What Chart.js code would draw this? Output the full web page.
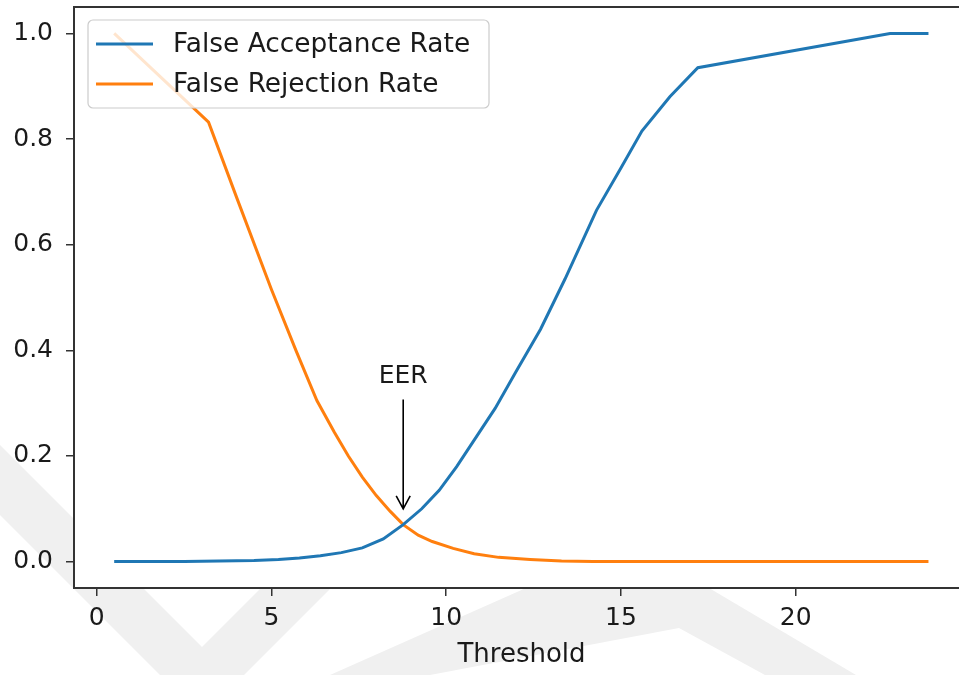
<!DOCTYPE html>
<html lang="en">
<head>
<meta charset="UTF-8">
<title>FAR / FRR</title>
<script src="https://cdn.jsdelivr.net/npm/chart.js"></script>
<style>
    html, body { margin: 0; padding: 0; background: #fff; overflow: hidden; }
    #wrap { width: 959px; height: 675px; overflow: hidden; }
    canvas { display: block; }
</style>
</head>
<body>
<div id="wrap"><canvas id="myChart" width="990" height="675"></canvas></div>
<script>
    // FAR curve (threshold, rate)
    const farX = [0.5, 1.5, 2.5, 3.5, 4.5, 5.2, 5.8, 6.4, 7.0, 7.6, 8.2, 8.77, 9.3, 9.8, 10.3, 10.8, 11.4, 12.0, 12.7, 13.4, 14.3, 15.0, 15.6, 16.4, 17.2, 22.7, 23.8];
    const farY = [0, 0, 0, 0.001, 0.002, 0.004, 0.007, 0.011, 0.017, 0.026, 0.043, 0.07, 0.10, 0.135, 0.18, 0.23, 0.29, 0.36, 0.44, 0.535, 0.665, 0.745, 0.815, 0.88, 0.935, 1.0, 1.0];

    // FRR curve
    const frrX = [0.5, 3.2, 4.0, 5.0, 5.7, 6.3, 6.8, 7.2, 7.6, 8.0, 8.4, 8.77, 9.2, 9.6, 10.2, 10.8, 11.5, 12.4, 13.3, 14.2, 23.8];
    const frrY = [1.0, 0.832, 0.69, 0.515, 0.40, 0.305, 0.245, 0.20, 0.16, 0.125, 0.095, 0.07, 0.05, 0.038, 0.025, 0.015, 0.008, 0.004, 0.001, 0, 0];

    const labels = ["False Acceptance Rate", "False Rejection Rate"];
    const xTicks = [0, 5, 10, 15, 20];
    const yTicks = [0, 0.2, 0.4, 0.6, 0.8, 1.0];

    // EER annotation
    const eerLabel = "EER";
    const eerX = 8.77;
    const eerTextY = 0.35;
    const eerTailY = 0.307;
    const eerHeadY = 0.10;

    const FONT = '"DejaVu Sans", sans-serif';
    Chart.defaults.font.family = FONT;
    Chart.defaults.font.size = 25;
    Chart.defaults.color = '#1a1a1a';

    const toPoints = (xs, ys) => xs.map((x, i) => ({ x: x, y: ys[i] }));

    // faint watermark shapes outside the axes
    const backdrop = {
        id: 'backdrop',
        beforeDraw(chart) {
            const ctx = chart.ctx;
            const a = chart.chartArea;
            ctx.save();
            ctx.fillStyle = '#fff';
            ctx.fillRect(0, 0, chart.width, chart.height);
            ctx.fillStyle = '#f0f0f0';
            const shapes = [
                [[0, 445], [202, 647], [350, 499], [420, 499], [244, 675], [160, 675], [0, 515]],
                [[330, 675], [526, 588], [709, 588], [856, 675], [765, 675], [679, 628], [430, 675]]
            ];
            shapes.forEach(s => {
                ctx.beginPath();
                s.forEach((p, i) => i ? ctx.lineTo(p[0], p[1]) : ctx.moveTo(p[0], p[1]));
                ctx.closePath();
                ctx.fill();
            });
            ctx.fillStyle = '#fff';
            ctx.fillRect(a.left, a.top, a.right - a.left, a.bottom - a.top);
            ctx.restore();
        }
    };

    const overlay = {
        id: 'overlay',
        afterDraw(chart) {
            const ctx = chart.ctx;
            const a = chart.chartArea;
            const xs = chart.scales.x, ys = chart.scales.y;
            ctx.save();

            // spines
            ctx.strokeStyle = '#333';
            ctx.lineWidth = 2;
            ctx.strokeRect(a.left, a.top, a.right - a.left, a.bottom - a.top);

            // EER text + arrow
            const px = xs.getPixelForValue(eerX);
            ctx.fillStyle = '#1a1a1a';
            ctx.font = '25px ' + FONT;
            ctx.textAlign = 'center';
            ctx.textBaseline = 'middle';
            ctx.fillText(eerLabel, px, ys.getPixelForValue(eerTextY));
            const t = ys.getPixelForValue(eerTailY), h = ys.getPixelForValue(eerHeadY);
            ctx.strokeStyle = '#000';
            ctx.lineWidth = 1.6;
            ctx.beginPath();
            ctx.moveTo(px, t);
            ctx.lineTo(px, h);
            ctx.moveTo(px - 7, h - 13);
            ctx.lineTo(px, h);
            ctx.lineTo(px + 7, h - 13);
            ctx.stroke();

            // legend
            const bx = 88, by = 20, bw = 401, bh = 88, r = 5;
            ctx.beginPath();
            ctx.moveTo(bx + r, by);
            ctx.arcTo(bx + bw, by, bx + bw, by + bh, r);
            ctx.arcTo(bx + bw, by + bh, bx, by + bh, r);
            ctx.arcTo(bx, by + bh, bx, by, r);
            ctx.arcTo(bx, by, bx + bw, by, r);
            ctx.closePath();
            ctx.fillStyle = 'rgba(255,255,255,0.8)';
            ctx.fill();
            ctx.strokeStyle = '#cccccc';
            ctx.lineWidth = 1.2;
            ctx.stroke();

            ctx.textAlign = 'left';
            ctx.font = '26.4px ' + FONT;
            chart.data.datasets.forEach((ds, i) => {
                const y = 44 + i * 40;
                ctx.strokeStyle = ds.borderColor;
                ctx.lineWidth = 3;
                ctx.beginPath();
                ctx.moveTo(96, y);
                ctx.lineTo(153, y);
                ctx.stroke();
                ctx.fillStyle = '#1a1a1a';
                ctx.fillText(ds.label, 173, y + 1);
            });
            ctx.restore();
        }
    };

    const ctx = document.getElementById("myChart").getContext("2d");
    new Chart(ctx, {
        type: 'line',
        data: {
            datasets: [{
                label: labels[0],
                data: toPoints(farX, farY),
                borderColor: '#1f77b4',
                borderWidth: 3,
                pointRadius: 0,
                tension: 0,
                fill: false
            }, {
                label: labels[1],
                data: toPoints(frrX, frrY),
                borderColor: '#ff7f0e',
                borderWidth: 3,
                pointRadius: 0,
                tension: 0,
                fill: false
            }]
        },
        options: {
            responsive: false,
            animation: false,
            devicePixelRatio: 1,
            layout: { padding: { top: 7, right: 21, bottom: 0, left: 0 } },
            plugins: { legend: { display: false }, tooltip: { enabled: false } },
            scales: {
                x: {
                    type: 'linear',
                    min: -0.65,
                    max: 24.96,
                    afterBuildTicks: s => { s.ticks = xTicks.map(v => ({ value: v })); },
                    afterFit: s => { s.height = 87; s.paddingLeft = 0; s.paddingRight = 0; },
                    ticks: { padding: 7, maxRotation: 0, callback: v => String(v) },
                    grid: { drawOnChartArea: false, drawTicks: true, tickLength: 8, color: '#333', lineWidth: 1.5 },
                    border: { display: false },
                    title: { display: true, text: 'Threshold', font: { size: 26 }, padding: { top: 0, bottom: 4 } }
                },
                y: {
                    type: 'linear',
                    min: -0.05,
                    max: 1.05,
                    afterBuildTicks: s => { s.ticks = yTicks.map(v => ({ value: v })); },
                    afterFit: s => { s.width = 74; s.paddingTop = 0; s.paddingBottom = 0; },
                    ticks: { padding: 13, callback: v => v.toFixed(1) },
                    grid: { drawOnChartArea: false, drawTicks: true, tickLength: 8, color: '#333', lineWidth: 1.5 },
                    border: { display: false }
                }
            }
        },
        plugins: [backdrop, overlay]
    });
</script>
</body>
</html>
